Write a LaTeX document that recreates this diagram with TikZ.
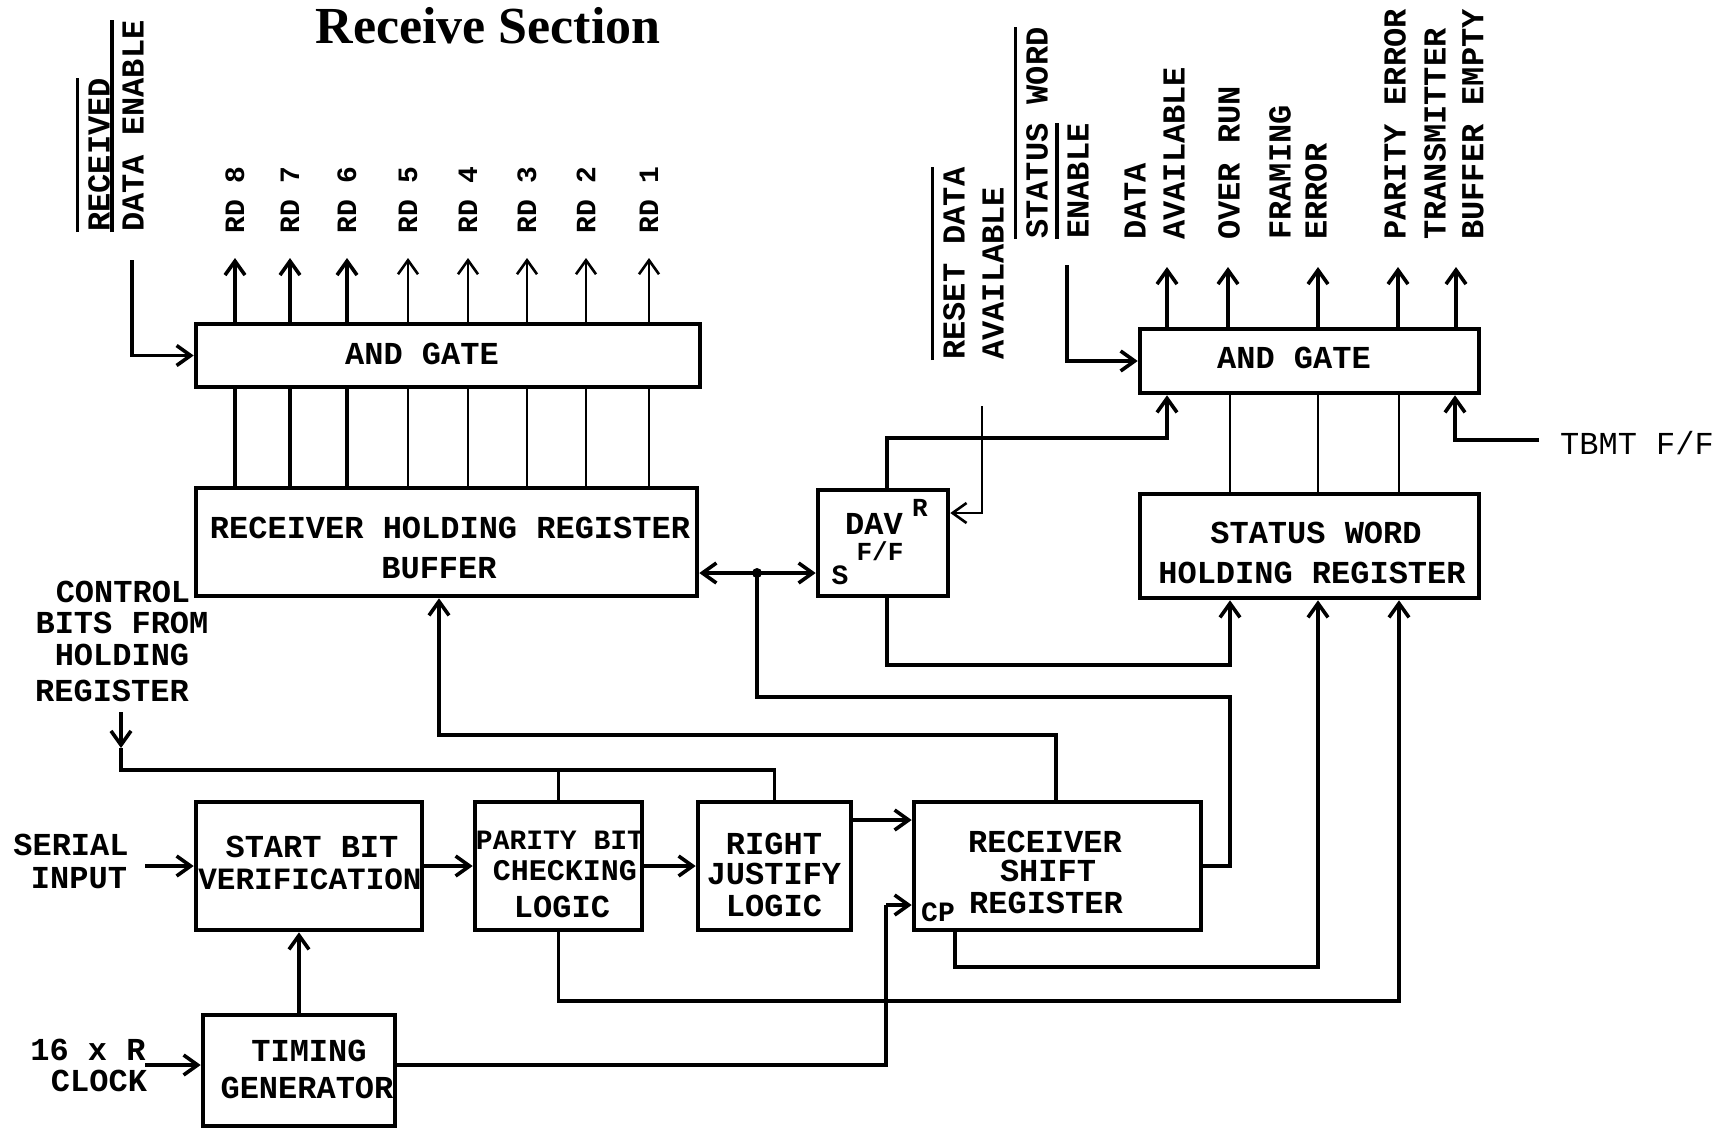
\documentclass[tikz,border=0pt]{standalone}
\usepackage{fontspec}
\setmainfont{Liberation Serif}
\newfontfamily\tw{Liberation Mono}
\usetikzlibrary{arrows.meta}
\tikzset{
  box/.style={draw, line width=2.3pt, inner sep=0pt},
  txt/.style={font=\tw\bfseries\fontsize{16}{18}\selectfont, inner sep=0pt},
  vlab/.style={txt, rotate=90, anchor=west},
  wire/.style={line width=1.8pt},
  thinwire/.style={line width=1.3pt},
  arr/.style={wire, -{Straight Barb[length=7pt,width=10pt]}},
  thinarr/.style={thinwire, -{Straight Barb[length=7pt,width=10pt]}},
  barr/.style={wire, {Straight Barb[length=7pt,width=10pt]}-{Straight Barb[length=7pt,width=10pt]}},
  ovl/.style={line width=1.6pt},
}
\begin{document}
\begin{tikzpicture}[x=0.5pt,y=-0.5pt]
\useasboundingbox (0,0) rectangle (1720,1130);
\fill[white] (0,0) rectangle (1720,1130);

% title
\node[font=\bfseries\fontsize{26}{30}\selectfont, inner sep=0pt] (title) at (488,26) {Receive Section};

% ---------- boxes ----------
\node[box, minimum width=252pt, minimum height=31.5pt] (ag1) at (448,355.5) {};
\node[box, minimum width=250.5pt, minimum height=54pt] (rhr) at (446.5,542) {};
\node[box, minimum width=65pt, minimum height=53pt] (dav) at (883,543) {};
\node[box, minimum width=169.5pt, minimum height=32pt] (ag2) at (1309.5,361) {};
\node[box, minimum width=169.5pt, minimum height=52pt] (swhr) at (1309.5,546) {};
\node[box, minimum width=113pt, minimum height=64pt] (sbv) at (309,866) {};
\node[box, minimum width=83.5pt, minimum height=64pt] (par) at (558.5,866) {};
\node[box, minimum width=76.5pt, minimum height=64pt] (rj) at (774.5,866) {};
\node[box, minimum width=143.5pt, minimum height=64pt] (rsr) at (1057.5,866) {};
\node[box, minimum width=96pt, minimum height=55.5pt] (tg) at (299,1070.5) {};

% ---------- box texts ----------
\node[txt] (ag1t) at (422,354) {AND GATE};
\node[txt] (rhrt1) at (450,528) {RECEIVER HOLDING REGISTER};
\node[txt] (rhrt2) at (439,568) {BUFFER};
\node[txt] (davt1) at (874,524) {DAV};
\node[txt, font=\tw\bfseries\fontsize{13}{15}\selectfont] (davt2) at (880,551) {F/F};
\node[txt, font=\tw\bfseries\fontsize{13}{15}\selectfont] (davr) at (920,508) {R};
\node[txt, font=\tw\bfseries\fontsize{14}{16}\selectfont] (davs) at (840,575) {S};
\node[txt] (ag2t) at (1294,358) {AND GATE};
\node[txt] (swt1) at (1316,533) {STATUS WORD};
\node[txt] (swt2) at (1312,573) {HOLDING REGISTER};
\node[txt] (sbt1) at (312,847) {START BIT};
\node[txt, font=\tw\bfseries\fontsize{15.5}{18}\selectfont] (sbt2) at (310,879) {VERIFICATION};
\node[txt, font=\tw\bfseries\fontsize{14}{16}\selectfont] (pt1) at (560,840) {PARITY BIT};
\node[txt, font=\tw\bfseries\fontsize{15}{17}\selectfont] (pt2) at (565,871) {CHECKING};
\node[txt] (pt3) at (562,907) {LOGIC};
\node[txt] (rjt1) at (774,844) {RIGHT};
\node[txt] (rjt2) at (774,874) {JUSTIFY};
\node[txt] (rjt3) at (774,906) {LOGIC};
\node[txt] (rst1) at (1045,842) {RECEIVER};
\node[txt] (rst2) at (1048,871) {SHIFT};
\node[txt] (rst3) at (1046,903) {REGISTER};
\node[txt, font=\tw\bfseries\fontsize{14}{16}\selectfont] (cpt) at (938,912) {CP};
\node[txt] (tgt1) at (309,1051) {TIMING};
\node[txt] (tgt2) at (307,1088) {GENERATOR};

% ---------- free labels ----------
\node[txt] (ser1) at (71,845) {SERIAL};
\node[txt] (ser2) at (79,878) {INPUT};
\node[txt] (clk1) at (88,1050) {16 x R};
\node[txt] (clk2) at (99,1081) {CLOCK};
\node[txt] (cb1) at (123,592) {CONTROL};
\node[txt] (cb2) at (122,623) {BITS FROM};
\node[txt] (cb3) at (122,655) {HOLDING};
\node[txt] (cb4) at (112,691) {REGISTER};
\node[font=\tw\fontsize{16}{18}\selectfont, inner sep=0pt] (tbmt) at (1637,443) {TBMT F/F};

% rotated labels, left block
\node[vlab] (recv) at (99,232) {RECEIVED};
\node[vlab] (dena) at (133,232) {DATA ENABLE};
\draw[ovl] ([xshift=-5pt]recv.north west) -- ([xshift=-5pt]recv.north east);
\draw[ovl] ([xshift=-5pt]dena.north west) -- ([xshift=-5pt]dena.north east);

% RD labels
\foreach \n/\x in {8/235,7/290,6/347,5/408,4/468,3/527,2/586,1/649}{
  \node[vlab, font=\tw\bfseries\fontsize{14}{16}\selectfont] (rd\n) at (\x,234) {RD \n};
  \coordinate (tip\n) at (\x,258);
}

% rotated labels, right block
\node[vlab] (rsta) at (954,360) {RESET DATA};
\node[vlab] (rstb) at (993,360) {AVAILABLE};
\draw[ovl] ([xshift=-5pt]rsta.north west) -- ([xshift=-5pt]rsta.north east);
\node[vlab] (swea) at (1037,239) {STATUS WORD};
\node[vlab] (sweb) at (1078,239) {ENABLE};
\draw[ovl] ([xshift=-5pt]swea.north west) -- ([xshift=-5pt]swea.north east);
\draw[ovl] ([xshift=-5pt]sweb.north west) -- ([xshift=-5pt]sweb.north east);
\node[vlab] (o1a) at (1135,240) {DATA};
\node[vlab] (o1b) at (1174,240) {AVAILABLE};
\node[vlab] (o2) at (1229,240) {OVER RUN};
\node[vlab] (o3a) at (1280,240) {FRAMING};
\node[vlab] (o3b) at (1316,240) {ERROR};
\node[vlab] (o4) at (1395,240) {PARITY ERROR};
\node[vlab] (o5a) at (1435,240) {TRANSMITTER};
\node[vlab] (o5b) at (1473,240) {BUFFER EMPTY};

% ---------- coordinates ----------
\coordinate (rde) at (132,260);
\coordinate (swe) at (1067,265);
\coordinate (rst) at (982,406);
\coordinate (rsty) at (982,513);
\coordinate (dot) at (757,573);
\coordinate (c2) at (1167,438);
\coordinate (c3) at (1230,665);
\coordinate (c4) at (1455,440);
\coordinate (tbl) at (1539,440);
\coordinate (b1) at (1230,697);
\coordinate (b2) at (757,697);
\coordinate (si) at (145,866);
\coordinate (clk) at (145,1065);
\coordinate (y820) at (860,820);
\coordinate (c6) at (886,1065);
\coordinate (cp) at (886,905);
\coordinate (cb) at (121,712);
\coordinate (c7b) at (121,748);
\coordinate (c7) at (121,770);
\coordinate (c8) at (1056,735);
\coordinate (c9) at (439,735);
\coordinate (c10) at (955,967);
\coordinate (c11) at (1318,967);
\coordinate (c12) at (1399,1001);
\coordinate (dx) at (887,600);
\foreach \i/\x in {1/1167,2/1228,3/1318,4/1398,5/1456}{
  \coordinate (otip\i) at (\x,267);
}

% ---------- connectors ----------
% RD outputs
\foreach \n in {8,7,6}{
  \draw[arr] (ag1.north -| tip\n) -- (tip\n);
  \draw[wire, line width=2.2pt] (rhr.north -| tip\n) -- (ag1.south -| tip\n);
}
\foreach \n in {5,4,3,2,1}{
  \draw[thinarr] (ag1.north -| tip\n) -- (tip\n);
  \draw[thinwire] (rhr.north -| tip\n) -- (ag1.south -| tip\n);
}
% received data enable
\draw[arr] (rde) |- (ag1.west);
% status word enable
\draw[arr] (swe) |- (ag2.west);
% and gate 2 outputs
\foreach \i in {1,...,5}{
  \draw[arr] (ag2.north -| otip\i) -- (otip\i);
}
% status word register to and gate 2
\draw[thinwire] (swhr.north -| c3) -- (ag2.south -| c3);
\draw[thinwire] (swhr.north -| c11) -- (ag2.south -| c11);
\draw[thinwire] (swhr.north -| c12) -- (ag2.south -| c12);
% TBMT
\draw[arr] (tbl) -- (c4) -- (ag2.south -| c4);
% DAV output to AND gate 2
\draw[arr] (dav.north -| dx) |- (c2) -- (ag2.south -| c2);
% reset data available
\draw[thinarr] (rst) -- (rsty) -- (dav.east |- rsty);
% RHR <-> DAV S
\draw[barr] (rhr.east |- dot) -- (dav.west |- dot);
\fill (dot) circle (5);
% DAV bottom to SWHR
\draw[arr] (dav.south -| dx) |- (c3) -- (swhr.south -| c3);
% RSR output to bus
\draw[wire] (rsr.east) -| (b1) -- (b2) -- (dot);
% serial input, chain
\draw[arr] (si) -- (sbv.west);
\draw[arr] (sbv.east) -- (par.west);
\draw[arr] (par.east) -- (rj.west);
\draw[arr] (rj.east |- y820) -- (rsr.west |- y820);
% clock
\draw[arr] (clk) -- (tg.west |- clk);
\draw[arr] (tg.north) -- (sbv.south -| tg.north);
\draw[wire] (tg.east |- c6) -- (c6) -- (cp);
\draw[arr] (cp) -- (rsr.west |- cp);
% control bits
\draw[arr] (cb) -- (c7b);
\draw[wire] (c7b) -- (c7) -| (rj.north);
\draw[wire] (par.north) -- (par.north |- c7);
% RSR to RHR
\draw[arr] (rsr.north -| c8) -- (c8) -- (c9) -- (rhr.south -| c9);
% RSR bottom to SWHR
\draw[arr] (rsr.south -| c10) -- (c10) -- (c11) -- (swhr.south -| c11);
% parity bottom to SWHR
\draw[arr] (par.south) |- (c12) -- (swhr.south -| c12);
\end{tikzpicture}
\end{document}
